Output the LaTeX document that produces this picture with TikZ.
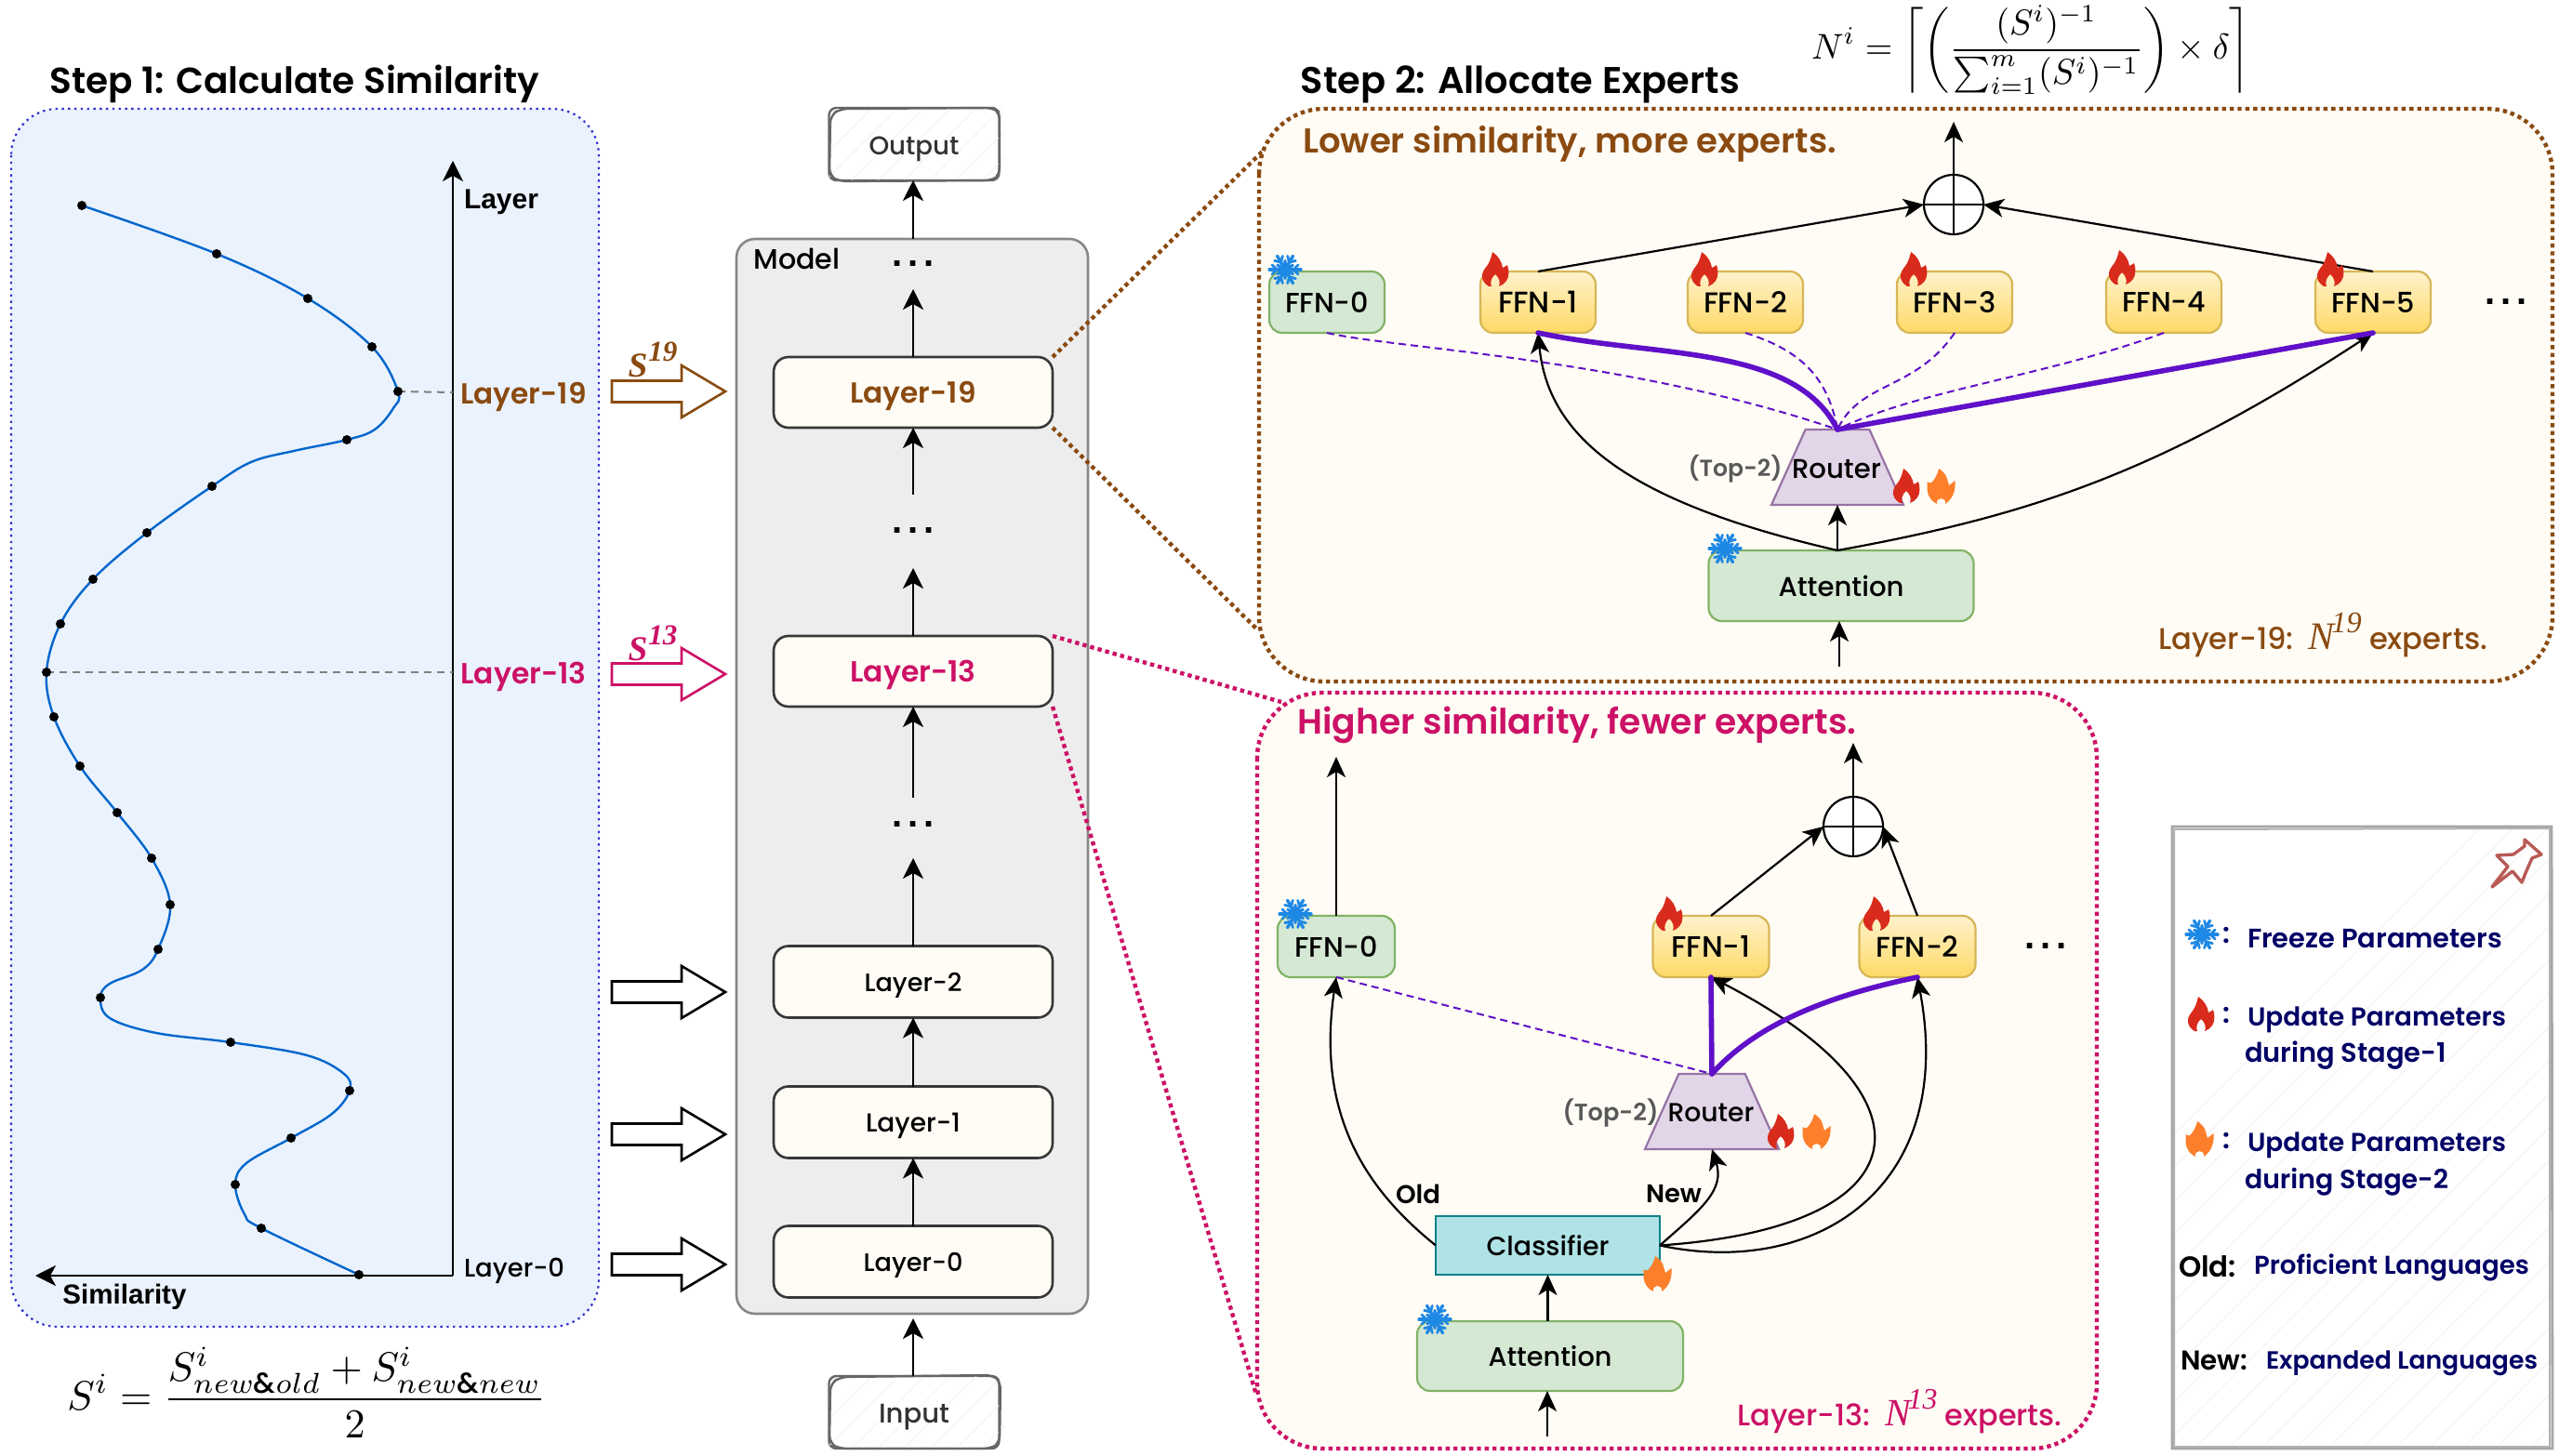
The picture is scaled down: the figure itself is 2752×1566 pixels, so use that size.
\documentclass[tikz,border=0pt]{standalone}
\usepackage{fontspec}
\usepackage{graphicx}
\usepackage{amsmath}
\usetikzlibrary{arrows.meta,shapes.geometric,calc}
\setmainfont[BoldFont={Poppins SemiBold}]{Poppins Medium}
\newfontfamily\hel{Liberation Sans}
\newfontfamily\ser{Liberation Serif}
\newlength\wpx \setlength\wpx{0.5pt}
\newcommand\tx[2]{\resizebox{#1\wpx}{!}{#2}}
\newcommand\dn[2]{\raisebox{-#1\wpx}[\height][\depth]{#2}}
\newcommand\tdots[1]{{\hel\bfseries\fontsize{#1pt}{#1pt}\selectfont .\kern3pt.\kern3pt.}}
\newcommand\Ssup[2]{{\ser\bfseries\itshape\fontsize{10}{10}\selectfont #1\kern.3pt\raisebox{4.6pt}{\fontsize{8.3}{8}\selectfont #2}}}
\newcommand\Nsup[2]{{\ser\itshape\fontsize{13}{13}\selectfont #1\kern-1pt\raisebox{5.5pt}{\fontsize{10}{10}\selectfont #2}}}
\newcommand\blockarr[2]{\draw[draw=#2,fill=white,line width=1.3pt] (658,#1-11.5) -- (733,#1-11.5) -- (733,#1-28) -- (780,#1) -- (733,#1+28) -- (733,#1+11.5) -- (658,#1+11.5) -- cycle;}
\definecolor{brownc}{HTML}{8A4A10}
\definecolor{crim}{HTML}{CC1166}
\definecolor{navy}{HTML}{000066}
\definecolor{cream}{HTML}{FFFCF5}
\definecolor{purp}{HTML}{5F10C8}
\definecolor{firered}{HTML}{D92B1B}
\definecolor{fireor}{HTML}{FD7F2C}
\definecolor{snowb}{HTML}{1E88E5}
\tikzset{
  arr/.style={draw=black,line width=1.4pt,-{Stealth[length=11pt,width=11pt,inset=3pt]}},
  thinarr/.style={draw=black,line width=1.1pt,-{Stealth[length=11pt,width=10pt,inset=3pt]}},
  txt/.style={inner sep=0pt,outer sep=0pt},
  sz/.style 2 args={minimum width=#1*0.5pt,minimum height=#2*0.5pt,inner sep=0pt,outer sep=0pt},
  layerbox/.style={draw=black!78,fill=cream,line width=1.3pt,rounded corners=8pt},
  ffnhot/.style={draw={rgb,255:red,214;green,182;blue,86},line width=1.1pt,rounded corners=7pt,top color={rgb,255:red,255;green,242;blue,204},bottom color={rgb,255:red,255;green,217;blue,102}},
  greenbox/.style={draw={rgb,255:red,130;green,179;blue,102},fill={rgb,255:red,213;green,232;blue,212},line width=1.1pt,rounded corners=7pt},
  routerbox/.style={shape=trapezium,trapezium stretches=true,draw={rgb,255:red,150;green,115;blue,166},fill={rgb,255:red,225;green,213;blue,231},line width=1.1pt},
  sumnode/.style={shape=circle,draw=black,fill=white,line width=1.1pt,minimum size=32pt,inner sep=0pt,outer sep=0pt},
  sketchb/.style={draw=black!60,line width=1.2pt,rounded corners=4pt},
  hatchl/.style={draw=black!5,line width=0.5pt},
  thickp/.style={draw=purp,line width=2.8pt,line cap=round},
  dashp/.style={draw=purp,line width=1pt,dash pattern=on 4pt off 2.5pt},
  zoomb/.style={draw=brownc,line width=2.2pt,dash pattern=on 2.2pt off 2pt},
  zoomc/.style={draw=crim,line width=2.2pt,dash pattern=on 2.2pt off 2pt},
  flame/.pic={\path[pic actions,even odd rule] (-7,18) .. controls (-12,15) and (-15,10) .. (-14,5) .. controls (-13,0) and (-9,-3) .. (-7,-7) .. controls (-5,-11) and (-4,-15) .. (-3,-19) .. controls (3,-15) and (7,-9) .. (8,-2) .. controls (10,-3) and (12,-4) .. (13,-5) .. controls (15,0) and (15,8) .. (12,12) .. controls (10,15) and (7,17) .. (4,18) .. controls (6,14) and (4,8) .. (0,5) .. controls (-4,8) and (-6,14) .. (-4,18) -- cycle;},
  flameb/.pic={\path[pic actions] (-4,19) .. controls (-9,17) and (-14,11) .. (-14.5,4) -- (-14.5,-5) .. controls (-12,-3) and (-10,-3) .. (-8,-6) .. controls (-5,-10) and (-3,-14) .. (-2,-19) .. controls (3,-16) and (6,-12) .. (7,-8) .. controls (8,-5) and (8,-3) .. (9,-1) -- (15.5,-6) .. controls (16,2) and (15,12) .. (5,19) .. controls (6,15) and (3,13) .. (0.5,13) .. controls (-2,13) and (-5,15) .. (-4,19) -- cycle;},
  snow/.pic={\foreach \a in {30,90,150,210,270,330}{\begin{scope}[rotate=\a]
     \draw[snowb,line width=1.7pt,line cap=round] (0,0) -- (0,17);
     \draw[snowb,line width=1.4pt,line cap=round] (-5,14) -- (0,9) -- (5,14);
     \draw[snowb,line width=1.4pt,line cap=round] (-5,8) -- (0,3) -- (5,8);
     \end{scope}}\fill[snowb] (0,0) circle[radius=7];},
}
\begin{document}
\begin{tikzpicture}[x=0.5pt,y=-0.5pt]
\useasboundingbox (0,0) rectangle (2752,1566);
\fill[white] (0,0) rectangle (2752,1566);

% ---------- Step 1 panel
\node[txt] (t1) at (317,90) {\tx{526}{\bfseries Step 1: Calculate Similarity}};
\draw[fill={rgb,255:red,234;green,242;blue,253},draw={rgb,255:red,51;green,51;blue,204},line width=1.1pt,dash pattern=on 1.2pt off 2.2pt,rounded corners=25pt] (12,117) rectangle (644,1427);
\coordinate (ax) at (487,1372);
\coordinate (axt) at (487,173);
\coordinate (axl) at (38,1372);
\draw[arr] (ax) -- (axt);
\draw[arr] (ax) -- (axl);
\node[txt] (lay) at (539,217) {\tx{80}{\hel\bfseries Layer}};
\node[txt] (sim) at (134,1395) {\tx{133}{\hel\bfseries Similarity}};
\coordinate (p19) at (428,421);
\coordinate (p13) at (50,723);
\coordinate (a19) at (487,422);
\coordinate (a13) at (487,723);
\draw[draw=black!50,line width=1pt,dash pattern=on 4pt off 3pt] (p19) -- (a19);
\draw[draw=black!50,line width=1pt,dash pattern=on 4pt off 3pt] (p13) -- (a13);
\draw[draw={rgb,255:red,0;green,102;blue,204},line width=1.2pt] plot[smooth,tension=0.6] coordinates {(88,221) (233,273) (331,321) (400,373) (428,421) (423,439) (403,462) (373,473) (316,485) (270,497) (228,523) (158,573) (100,623) (65,671) (50,723) (58,771) (86,824) (126,874) (163,923) (183,973) (170,1021) (153,1043) (118,1058) (108,1073) (118,1095) (168,1111) (248,1121) (330,1135) (370,1155) (376,1173) (357,1198) (313,1224) (265,1251) (253,1274) (263,1306) (281,1321) (386,1371)};
\foreach \p in {(88,221),(233,273),(331,321),(400,373),(428,421),(373,473),(228,523),(158,573),(100,623),(65,671),(50,723),(58,771),(86,824),(126,874),(163,923),(183,973),(170,1021),(108,1073),(248,1121),(376,1173),(313,1224),(253,1274),(281,1321),(386,1371)}
  \fill[black] \p circle[radius=5];
\node[txt,text=brownc] (l19t) at (563,427) {\tx{135}{\bfseries Layer-19}};
\node[txt,text=crim] (l13t) at (563,728) {\tx{135}{\bfseries Layer-13}};
\node[txt] (l0t) at (553,1367) {\tx{108}{Layer-0}};
\node[txt] (feq) at (330,1498) {\resizebox{515\wpx}{!}{$\displaystyle S^{i}=\frac{S^{i}_{new\&old}+S^{i}_{new\&new}}{2}$}};

% ---------- block arrows
\blockarr{421}{brownc}
\blockarr{725}{crim}
\blockarr{1067}{black}
\blockarr{1220}{black}
\blockarr{1360}{black}
\node[txt,text=brownc] (s19) at (702,387) {\tx{53}{\Ssup{S}{19}}};
\node[txt,text=crim] (s13) at (702,692) {\tx{53}{\Ssup{S}{13}}};

% ---------- model column
\node[draw=black!47,fill=black!7,line width=1.3pt,rounded corners=10pt,sz={378}{1156}] (model) at (981,835) {};
\node[txt,anchor=center] (modelt) at (857,278) {\tx{93}{Model}};
\node[layerbox,sz={300}{76}] (L19) at (982,422) {\dn{4}{\tx{135}{\bfseries\color{brownc}Layer-19}}};
\node[layerbox,sz={300}{76}] (L13) at (982,722) {\dn{4}{\tx{135}{\bfseries\color{crim}Layer-13}}};
\node[layerbox,sz={300}{77}] (L2) at (982,1056) {\dn{4}{\tx{105}{Layer-2}}};
\node[layerbox,sz={300}{77}] (L1) at (982,1207) {\dn{4}{\tx{102}{Layer-1}}};
\node[layerbox,sz={300}{77}] (L0) at (982,1357) {\dn{4}{\tx{107}{Layer-0}}};
% output / input sketch boxes
\node[sketchb,fill=white,sz={183}{78}] (out) at (983,155) {};
\begin{scope}
\clip (892,116) rectangle (1080,194);
\foreach \d in {0,28,...,280} \draw[hatchl] (860+\d,194) -- ++(78,-78);
\end{scope}
\node[txt,text=black!80] (outt) at (983,160) {\tx{97}{Output}};
\draw[sketchb] (893,124) -- (904,117) -- (1068,116) -- (1075,121) -- (1075,188) -- (1068,194) -- (902,195) -- (892,189) -- cycle;
\node[sketchb,fill=white,sz={183}{78}] (inp) at (983,1519) {};
\begin{scope}
\clip (892,1480) rectangle (1080,1558);
\foreach \d in {0,28,...,280} \draw[hatchl] (860+\d,1558) -- ++(78,-78);
\end{scope}
\node[txt,text=black!80] (inpt) at (983,1524) {\tx{76}{Input}};
\draw[sketchb] (893,1488) -- (904,1481) -- (1068,1479) -- (1076,1486) -- (1075,1552) -- (1066,1558) -- (902,1558) -- (892,1552) -- cycle;
\coordinate (mtop) at (982,257);
\coordinate (mbot) at (982,1418);
\coordinate (d1a) at (982,311);
\coordinate (d2a) at (982,532);
\coordinate (d2b) at (982,611);
\coordinate (d3a) at (982,858);
\coordinate (d3b) at (982,923);
\draw[arr] (mtop) -- (out.south-|mtop);
\draw[arr] (L19.north) -- (d1a);
\draw[arr] (d2a) -- (L19.south);
\draw[arr] (L13.north) -- (d2b);
\draw[arr] (d3a) -- (L13.south);
\draw[arr] (L2.north) -- (d3b);
\draw[arr] (L1.north) -- (L2.south);
\draw[arr] (L0.north) -- (L1.south);
\draw[arr] (inp.north-|mbot) -- (mbot);
\node[txt,anchor=base] (dots1) at (982,287) {\tdots{20}};
\node[txt,anchor=base] (dots2) at (982,574) {\tdots{20}};
\node[txt,anchor=base] (dots3) at (982,889) {\tdots{20}};

% ---------- zoom connectors
\coordinate (z1) at (1381,140);
\coordinate (z2) at (1351,676);
\coordinate (z3) at (1378,755);
\coordinate (z4) at (1351,1500);
\draw[zoomb] (L19.north east) -- (z1);
\draw[zoomb] (L19.south east) -- (z2);
\draw[zoomc] (L13.north east) -- (z3);
\draw[zoomc] (L13.south east) -- (z4);

% ---------- upper panel
\node[txt] (t2) at (1635,91) {\tx{472}{\bfseries Step 2: Allocate Experts}};
\node[txt] (neq) at (2184,54) {\resizebox*{472\wpx}{96\wpx}{$\displaystyle N^{i}=\left\lceil\left(\frac{(S^{i})^{-1}}{\sum_{i=1}^{m}(S^{i})^{-1}}\right)\times\delta\right\rceil$}};
\draw[zoomb,fill=cream,rounded corners=35pt] (1354,117) rectangle (2745,733);
\node[txt,text=brownc] (lowt) at (1688,155) {\tx{574}{\bfseries Lower similarity, more experts.}};
\node[sumnode] (uc) at (2101,220) {};
\draw[line width=1.1pt] (uc.north) -- (uc.south) (uc.west) -- (uc.east);
\coordinate (uo) at (2101,131);
\draw[thinarr] (uc.north) -- (uo);
\node[greenbox,sz={124}{66}] (u0) at (1427,325) {\tx{90}{FFN-0}};
\node[ffnhot,sz={124}{66}] (u1) at (1654,325) {\tx{86}{FFN-1}};
\node[ffnhot,sz={124}{66}] (u2) at (1877,325) {\tx{90}{FFN-2}};
\node[ffnhot,sz={124}{66}] (u3) at (2102,325) {\tx{90}{FFN-3}};
\node[ffnhot,sz={124}{66}] (u4) at (2327,325) {\tx{90}{FFN-4}};
\node[ffnhot,sz={124}{66}] (u5) at (2552,325) {\tx{90}{FFN-5}};
\node[txt,anchor=base] (udots) at (2695,328) {\tdots{20}};
\node[routerbox,sz={142}{81},trapezium left angle=62,trapezium right angle=62] (ur) at (1976,502.5) {\phantom{\rule{4pt}{4pt}}};
\node[txt] (urt) at (1975,504) {\tx{96}{Router}};
\node[txt,text=black!65] (utop) at (1866,504) {\tx{101}{\bfseries (Top-2)}};
\node[greenbox,sz={285}{76}] (ua) at (1980,630) {\tx{135}{Attention}};
\coordinate (uain) at (1978,717);
\draw[thinarr] (uain) -- (ua.south-|uain);
\draw[thinarr] (ua.north-|ur.south) -- (ur.south);
\draw[thinarr] (u1.north) -- (uc.west);
\draw[thinarr] (u5.north) -- (uc.east);
\draw[dashp] (u0.south) .. controls (1500,375) and (1750,385) .. (ur.north);
\draw[dashp] (u2.south) .. controls (1930,375) and (1965,400) .. (ur.north);
\draw[dashp] (u3.south) .. controls (2060,420) and (2000,410) .. (ur.north);
\draw[dashp] (u4.south) .. controls (2200,405) and (2060,420) .. (ur.north);
\draw[thinarr] (ua.north-|ur.south) .. controls (1750,540) and (1665,470) .. (u1.south);
\draw[thinarr] (ua.north-|ur.south) .. controls (2180,555) and (2320,510) .. (u5.south);
\draw[thickp] (u1.south) .. controls (1780,385) and (1930,370) .. (ur.north);
\draw[thickp] (u5.south) -- (ur.north);
\pic[fill=firered] at (1608,290) {flame};
\pic[fill=firered] at (1833,290) {flame};
\pic[fill=firered] at (2058,290) {flame};
\pic[fill=firered] at (2282,288) {flame};
\pic[fill=firered] at (2506,290) {flame};
\pic at (1382,290) {snow};
\pic at (1855,590) {snow};
\pic[fill=firered] at (2050,523) {flame};
\pic[fill=fireor] at (2087,523) {flameb};
\node[txt,text=brownc] (unote) at (2498,683) {\tx{354}{Layer-19:\enspace\Nsup{N}{19} experts.}};

% ---------- lower panel
\draw[zoomc,fill=cream,rounded corners=35pt] (1352,745) rectangle (2255,1558);
\node[txt,text=crim] (hight) at (1696,780) {\tx{601}{\bfseries Higher similarity, fewer experts.}};
\node[sumnode] (lc) at (1993,889) {};
\draw[line width=1.1pt] (lc.north) -- (lc.south) (lc.west) -- (lc.east);
\coordinate (lo) at (1993,799);
\draw[thinarr] (lc.north) -- (lo);
\node[greenbox,sz={126}{66}] (l0) at (1437,1018) {\tx{90}{FFN-0}};
\node[ffnhot,sz={125}{66}] (l1) at (1840,1018) {\tx{85}{FFN-1}};
\node[ffnhot,sz={125}{66}] (l2) at (2062,1018) {\tx{89}{FFN-2}};
\node[txt,anchor=base] (ldots) at (2200,1020) {\tdots{20}};
\coordinate (lo0) at (1437,814);
\draw[thinarr] (l0.north) -- (lo0);
\draw[thinarr] (l1.north) -- (lc.west);
\draw[thinarr] (l2.north) -- (lc.east);
\node[routerbox,sz={144}{81},trapezium left angle=63,trapezium right angle=63] (lr) at (1841,1195.5) {\phantom{\rule{4pt}{4pt}}};
\node[txt] (lrt) at (1840,1197) {\tx{93}{Router}};
\node[txt,text=black!65] (ltop) at (1732,1197) {\tx{103}{\bfseries (Top-2)}};
\node[draw={rgb,255:red,14;green,128;blue,136},fill={rgb,255:red,176;green,227;blue,230},line width=1.2pt,sz={241}{63}] (cl) at (1664.5,1339.5) {\tx{132}{Classifier}};
\node[greenbox,sz={286}{75}] (la) at (1667,1458.5) {\tx{133}{Attention}};
\coordinate (lain) at (1664,1545);
\draw[thinarr] (lain) -- (la.south-|lain);
\draw[thinarr] (la.north-|cl.south) -- (cl.south);
\draw[dashp] (l0.south) -- (lr.north);
\draw[thinarr] (cl.west) .. controls (1470,1280) and (1415,1200) .. (l0.south);
\draw[thinarr] (cl.east) .. controls (1830,1300) and (1855,1280) .. (lr.south);
\draw[thinarr] (cl.east) .. controls (2070,1320) and (2090,1180) .. (l1.south);
\draw[thinarr] (cl.east) .. controls (1950,1375) and (2105,1280) .. (l2.south);
\draw[thickp] (lr.north) -- (l1.south);
\draw[thickp] (lr.north) .. controls (1890,1100) and (1970,1070) .. (l2.south);
\node[txt] (oldt) at (1525,1284) {\tx{48}{\bfseries Old}};
\node[txt] (newt) at (1800,1284) {\tx{60}{\bfseries New}};
\pic at (1393,983) {snow};
\pic[fill=firered] at (1795,983) {flame};
\pic[fill=firered] at (2018,983) {flame};
\pic[fill=firered] at (1915,1217) {flame};
\pic[fill=fireor] at (1953,1217) {flameb};
\pic[fill=fireor] at (1782,1370) {flameb};
\pic at (1543,1419) {snow};
\node[txt,text=crim] (lnote) at (2043,1518) {\tx{349}{Layer-13:\enspace\Nsup{N}{13} experts.}};

% ---------- legend
\begin{scope}
\clip (2336,889) rectangle (2745,1558);
\foreach \d in {0,36,...,1080} \draw[hatchl] (2000+\d,1558) -- ++(680,-680);
\end{scope}
\draw[draw=black!35,line width=1.4pt] (2336,889) -- (2744,889) -- (2745,1558) -- (2336,1558) -- cycle;
\draw[draw=black!30,line width=1pt] (2338,892) -- (2742,891) -- (2742,1556) -- (2338,1556) -- cycle;
\draw[draw={rgb,255:red,184;green,90;blue,85},line width=1.7pt,line join=round] (2685,920) -- (2703,919) -- (2715,910) -- (2715,903) -- (2733,919) -- (2723,923) -- (2716,939) -- (2712,949) -- (2702,937) -- (2680,954) -- (2697,932) -- cycle;
\pic at (2368,1005) {snow};
\pic[fill=firered] at (2367,1091) {flame};
\pic[fill=fireor] at (2365,1225) {flameb};
\node[txt,text=navy] (c1) at (2394,1006) {\fontsize{15}{15}\selectfont\bfseries :};
\node[txt,text=navy] (c2) at (2394,1092) {\fontsize{15}{15}\selectfont\bfseries :};
\node[txt,text=navy] (c3) at (2394,1227) {\fontsize{15}{15}\selectfont\bfseries :};
\node[txt,text=navy] (g1) at (2554,1010) {\tx{274}{\bfseries Freeze Parameters}};
\node[txt,text=navy] (g2) at (2556,1097) {\tx{278}{\bfseries Update Parameters}};
\node[txt,text=navy,anchor=west] (g3) at (2414,1135) {\tx{217}{\bfseries during Stage-1}};
\node[txt,text=navy] (g4) at (2556,1232) {\tx{278}{\bfseries Update Parameters}};
\node[txt,text=navy,anchor=west] (g5) at (2414,1271) {\tx{219}{\bfseries during Stage-2}};
\node[txt,anchor=west] (g6) at (2343,1362) {\tx{62}{\bfseries Old:}};
\node[txt,text=navy,anchor=west] (g7) at (2424,1363) {\tx{296}{\bfseries Proficient Languages}};
\node[txt,anchor=west] (g8) at (2345,1463) {\tx{72}{\bfseries New:}};
\node[txt,text=navy,anchor=west] (g9) at (2437,1466) {\tx{292}{\bfseries Expanded Languages}};
\end{tikzpicture}
\end{document}
